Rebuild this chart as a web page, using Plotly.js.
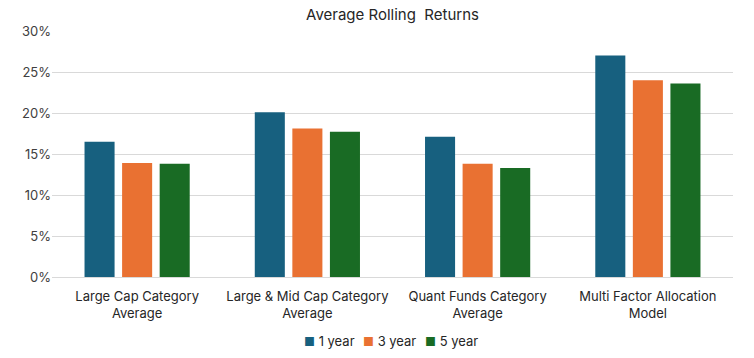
<!DOCTYPE html>
<html>
<head>
<meta charset="utf-8">
<script src="https://cdn.plot.ly/plotly-3.0.1.min.js"></script>
<style>html,body{margin:0;padding:0;background:#fff;}#chart{width:754px;height:358px;}</style>
</head>
<body>
<div id="chart"></div>
<script>
const categories = ["Large Cap Category<br>Average", "Large & Mid Cap Category<br>Average", "Quant Funds Category<br>Average", "Multi Factor Allocation<br>Model"];
const seriesNames = ["1 year", "3 year", "5 year"];
const oneYear = [0.165, 0.201, 0.171, 0.270];
const threeYear = [0.139, 0.181, 0.138, 0.240];
const fiveYear = [0.138, 0.177, 0.133, 0.236];
const yTicks = [0, 0.05, 0.10, 0.15, 0.20, 0.25, 0.30];
const colors = ["#17607F", "#E97132", "#196B24"];

const values = [oneYear, threeYear, fiveYear];
const traces = values.map((v, i) => ({
  type: "bar",
  name: seriesNames[i],
  x: categories,
  y: v,
  marker: {color: colors[i]},
  showlegend: false
}));

// compact Excel-style legend drawn as text
const legendX = [0.407, 0.496, 0.587];
const legendAnnotations = seriesNames.map((n, i) => ({
  xref: "paper", yref: "paper",
  x: legendX[i], y: -0.262, xanchor: "center", yanchor: "middle",
  showarrow: false,
  text: "<span style='color:" + colors[i] + ";font-size:12px'>■</span> " + n,
  font: {size: 13, color: "#262626", family: "Inter, 'DejaVu Sans', sans-serif"}
}));

const layout = {
  width: 754, height: 358,
  margin: {l: 52, r: 21, t: 31, b: 81},
  paper_bgcolor: "#fff", plot_bgcolor: "#fff",
  font: {family: "Inter, 'Noto Sans', sans-serif", size: 13, color: "#404040"},
  title: {text: "Average Rolling  Returns", x: 0.5, xanchor: "center", xref: "paper", y: 0.958, yanchor: "middle", font: {size: 15, color: "#262626"}},
  barmode: "group",
  bargap: 0.338,
  bargroupgap: 0.2,
  xaxis: {
    showgrid: false, showline: false, zeroline: false, ticks: "",
    ticklabelstandoff: 10,
    tickfont: {size: 13, color: "#262626"}, automargin: false
  },
  yaxis: {
    range: [0, 0.30], tickvals: yTicks, tickformat: ".0%",
    showgrid: true, gridcolor: "#D9D9D9", gridwidth: 1,
    zeroline: true, zerolinecolor: "#D9D9D9", zerolinewidth: 1,
    showline: false, ticks: "", ticklen: 0,
    tickfont: {size: 13, color: "#404040"}, automargin: false
  },
  annotations: legendAnnotations,
  showlegend: false
};

Plotly.newPlot("chart", traces, layout, {displayModeBar: false, staticPlot: true});
</script>
</body>
</html>
